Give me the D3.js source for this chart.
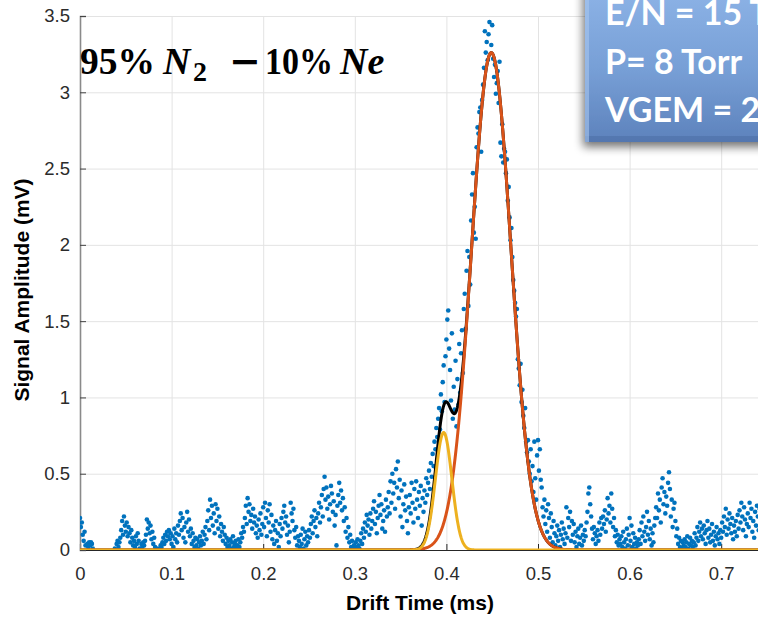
<!DOCTYPE html>
<html>
<head>
<meta charset="utf-8">
<script src="https://cdn.jsdelivr.net/npm/d3@7/dist/d3.min.js"></script>
<style>
  html, body { margin: 0; padding: 0; background: #fff; }
  svg { display: block; }
</style>
</head>
<body>
<svg id="chart" width="758" height="618"></svg>
<script>
// Drift-time signal (mV), sampled every 1 µs starting at t = 0
const timeStart = 0;
const timeStep = 0.001;
const signal = [
  0.21, 0.15, 0.18, 0.10, 0.06, 0.12, 0.03, -0.04, 0.04, 0.02,
  0.05, 0.03, 0.05, 0.04, 0.01, -0.05, -0.08, -0.03, -0.06, -0.10,
  -0.06, -0.02, -0.07, -0.10, -0.04, -0.08, -0.05, -0.09, -0.03, -0.06,
  -0.05, -0.09, -0.04, -0.07, -0.02, -0.06, -0.03, -0.05, 0.01, -0.02,
  0.04, 0.06, 0.02, 0.05, 0.08, 0.13, 0.19, 0.10, 0.22, 0.16,
  0.12, 0.18, 0.09, 0.15, 0.11, 0.05, 0.13, 0.08, 0.03, 0.06,
  0.02, 0.09, 0.04, 0.11, 0.06, 0.01, -0.03, 0.04, 0.02, 0.05,
  0.03, 0.06, 0.10, 0.20, 0.14, 0.18, 0.11, 0.16, 0.07, 0.12,
  0.04, 0.08, 0.02, -0.03, 0.01, -0.05, -0.02, 0.01, 0.03, 0.02,
  0.05, 0.08, 0.04, 0.10, 0.06, 0.12, 0.09, 0.13, 0.07, 0.11,
  0.04, 0.09, 0.02, 0.14, 0.07, 0.11, 0.05, 0.16, 0.10, 0.19,
  0.24, 0.13, 0.21, 0.08, 0.15, 0.05, 0.18, 0.25, 0.12, 0.20,
  0.09, 0.14, 0.04, 0.11, 0.06, 0.02, 0.08, 0.03, 0.07, 0.01,
  0.05, 0.09, 0.03, 0.06, 0.12, 0.04, 0.10, 0.15, 0.07, 0.19,
  0.26, 0.13, 0.33, 0.21, 0.29, 0.16, 0.24, 0.11, 0.30, 0.19,
  0.27, 0.14, 0.22, 0.09, 0.17, 0.12, 0.06, 0.15, 0.10, 0.04,
  0.08, 0.02, 0.06, 0.03, 0.07, 0.01, 0.05, 0.09, 0.02, 0.04,
  0.06, 0.01, 0.03, 0.07, 0.02, 0.05, 0.11, 0.08, 0.15, 0.12,
  0.21, 0.29, 0.17, 0.34, 0.25, 0.30, 0.19, 0.23, 0.14, 0.27,
  0.18, 0.22, 0.11, 0.16, 0.08, 0.20, 0.13, 0.24, 0.10, 0.17,
  0.28, 0.15, 0.31, 0.21, 0.09, 0.26, 0.18, 0.30, 0.12, 0.23,
  0.07, 0.16, 0.04, 0.13, 0.19, 0.06, 0.11, 0.02, 0.17, 0.09,
  0.21, 0.14, 0.25, 0.29, 0.18, 0.22, 0.10, 0.16, 0.05, 0.12,
  0.31, 0.24, 0.19, 0.27, 0.13, 0.08, 0.15, 0.03, 0.09, 0.06,
  0.02, 0.10, 0.04, 0.14, 0.01, 0.07, 0.12, 0.03, 0.09, 0.05,
  0.13, 0.08, 0.17, 0.22, 0.11, 0.19, 0.26, 0.15, 0.21, 0.09,
  0.24, 0.31, 0.18, 0.28, 0.36, 0.22, 0.40, 0.48, 0.33, 0.41,
  0.27, 0.35, 0.20, 0.30, 0.42, 0.37, 0.25, 0.32, 0.16, 0.23,
  0.03, 0.29, 0.36, 0.44, 0.31, 0.39, 0.26, 0.34, 0.19, 0.28,
  0.12, 0.21, 0.08, 0.15, 0.05, 0.10, 0.02, 0.06, -0.02, 0.03,
  0.01, 0.05, 0.02, 0.07, 0.03, 0.01, 0.06, 0.11, 0.04, 0.14,
  0.08, 0.18, 0.12, 0.23, 0.16, 0.20, 0.10, 0.24, 0.14, 0.19,
  0.27, 0.32, 0.17, 0.25, 0.11, 0.21, 0.29, 0.36, 0.23, 0.30,
  0.14, 0.19, 0.26, 0.12, 0.33, 0.22, 0.28, 0.38, 0.24, 0.45,
  0.31, 0.50, 0.37, 0.44, 0.27, 0.53, 0.41, 0.58, 0.34, 0.46,
  0.22, 0.39, 0.15, 0.30, 0.43, 0.26, 0.35, 0.19, 0.11, 0.28,
  0.36, 0.24, 0.44, 0.31, 0.18, 0.40, 0.27, 0.45, 0.33, 0.21,
  0.38, 0.29, 0.42, 0.16, 0.34, 0.25, 0.39, 0.31, 0.47, 0.36,
  0.44, 0.52, 0.40, 0.57, 0.48, 0.63, 0.55, 0.71, 0.66, 0.80,
  0.74, 0.86, 0.93, 0.79, 1.02, 0.91, 1.10, 1.21, 0.97, 1.27,
  1.38, 1.51, 1.57, 1.32, 1.18, 0.98, 1.42, 0.86, 1.07, 0.92,
  1.24, 0.81, 1.12, 0.95, 1.35, 1.03, 1.29, 1.44, 1.16, 1.58,
  1.68, 1.45, 1.83, 1.96, 1.60, 1.92, 1.74, 2.16, 2.33, 2.47,
  2.08, 2.25, 2.04, 2.64, 2.77, 2.73, 2.87, 2.90, 2.61, 2.95,
  3.05, 3.16, 3.40, 3.26, 3.33, 3.21, 3.38, 3.46, 3.52, 3.31,
  3.44, 3.22, 3.10, 3.18, 2.99, 3.06, 3.14, 2.93, 3.20, 2.67,
  2.58, 2.79, 2.54, 2.63, 2.61, 2.47, 2.56, 2.29, 2.38, 2.18,
  2.03, 2.11, 1.92, 1.77, 1.70, 1.62, 1.53, 1.58, 1.25, 1.19,
  1.08, 1.22, 0.97, 1.05, 0.88, 0.80, 0.93, 0.71, 0.64, 0.72,
  0.58, 0.50, 0.66, 0.45, 0.55, 0.38, 0.71, 0.47, 0.33, 0.62,
  0.72, 0.52, 0.66, 0.46, 0.41, 0.28, 0.22, 0.33, 0.17, 0.26,
  0.12, 0.30, 0.21, 0.08, 0.24, 0.15, 0.05, 0.19, 0.11, 0.03,
  0.09, 0.16, 0.06, 0.13, 0.02, 0.10, 0.18, 0.07, 0.14, 0.04,
  0.11, 0.28, 0.08, 0.21, 0.15, 0.25, 0.06, 0.19, 0.10, 0.17,
  0.05, 0.12, 0.02, 0.09, 0.14, 0.04, 0.08, 0.16, 0.03, 0.10,
  0.06, 0.13, 0.09, 0.18, 0.25, 0.37, 0.41, 0.30, 0.22, 0.14,
  0.07, 0.15, 0.11, 0.04, 0.09, 0.13, 0.06, 0.18, 0.10, 0.21,
  0.14, 0.22, 0.17, 0.26, 0.12, 0.20, 0.34, 0.24, 0.29, 0.18,
  0.37, 0.27, 0.15, 0.21, 0.09, 0.13, 0.05, 0.10, 0.03, 0.07,
  0.04, 0.09, 0.02, 0.12, 0.05, 0.01, 0.07, 0.14, 0.03, 0.10,
  0.21, 0.06, 0.16, 0.02, 0.11, 0.04, 0.08, 0.01, 0.05, 0.03,
  0.07, 0.13, 0.04, 0.18, 0.09, 0.22, 0.12, 0.06, 0.15, 0.25,
  0.10, 0.19, 0.07, 0.14, 0.03, 0.11, 0.05, 0.16, 0.21, 0.28,
  0.21, 0.37, 0.26, 0.33, 0.18, 0.41, 0.47, 0.30, 0.38, 0.24,
  0.35, 0.29, 0.44, 0.51, 0.40, 0.22, 0.33, 0.15, 0.27, 0.31,
  0.19, 0.09, 0.14, 0.04, 0.08, 0.02, 0.06, 0.01, 0.05, 0.03,
  0.07, 0.02, 0.05, 0.09, 0.01, 0.04, 0.08, 0.03, 0.06, 0.02,
  0.05, 0.11, 0.03, 0.08, 0.15, 0.06, 0.12, 0.18, 0.09, 0.14,
  0.07, 0.16, 0.11, 0.04, 0.13, 0.19, 0.08, 0.14, 0.05, 0.10,
  0.17, 0.06, 0.12, 0.03, 0.09, 0.15, 0.07, 0.11, 0.04, 0.13,
  0.08, 0.18, 0.12, 0.22, 0.15, 0.27, 0.10, 0.20, 0.14, 0.24,
  0.17, 0.11, 0.21, 0.07, 0.16, 0.12, 0.19, 0.09, 0.23, 0.14,
  0.26, 0.18, 0.31, 0.22, 0.13, 0.28, 0.20, 0.09, 0.17, 0.24,
  0.15, 0.31, 0.21, 0.27, 0.12, 0.19, 0.08, 0.25, 0.16, 0.29,
  0.22, 0.13, 0.27, 0.18, 0.30, 0.10, 0.20, 0.15, 0.24, 0.11
];

// Two-Gaussian fit: main N2 peak and the earlier Ne shoulder
const fitNames = ["main", "shoulder"];
const fitCenters = [0.449, 0.397];
const fitAmplitudes = [3.26, 0.77];
const fitSigmas = [0.0215, 0.009];

const xTicks = [0, 0.1, 0.2, 0.3, 0.4, 0.5, 0.6, 0.7];
const xGrid = [0, 0.1, 0.2, 0.3, 0.4, 0.5, 0.6, 0.7, 0.8];
const yTicks = [0, 0.5, 1, 1.5, 2, 2.5, 3, 3.5];
const infoLines = ["E/N = 15 Td", "P= 8 Torr", "VGEM = 250 V"];

const svg = d3.select("#chart");
const plot = { left: 80, top: 16, bottom: 550, right: 80 + 916 * 0.8 };

const x = d3.scaleLinear().domain([0, 0.8]).range([plot.left, plot.right]);
const y = d3.scaleLinear().domain([0, 3.5]).range([plot.bottom, plot.top]);

const tickFont = "'Liberation Sans', Arial, Helvetica, sans-serif";

const defs = svg.append("defs");
defs.append("clipPath").attr("id", "plotClip")
  .append("rect")
  .attr("x", plot.left).attr("y", plot.top)
  .attr("width", plot.right - plot.left).attr("height", plot.bottom - plot.top);

// grid
const grid = svg.append("g").attr("class", "grid");
grid.append("g")
  .attr("transform", `translate(0,${plot.bottom})`)
  .call(d3.axisBottom(x).tickValues(xGrid).tickSize(-(plot.bottom - plot.top)).tickFormat(""))
  .call(g => g.select(".domain").remove())
  .call(g => g.selectAll("line").attr("stroke", "#e3e3e3").attr("stroke-width", 1));
grid.append("g")
  .attr("transform", `translate(${plot.left},0)`)
  .call(d3.axisLeft(y).tickValues(yTicks).tickSize(-(plot.right - plot.left)).tickFormat(""))
  .call(g => g.select(".domain").remove())
  .call(g => g.selectAll("line").attr("stroke", "#e3e3e3").attr("stroke-width", 1));

// axes
svg.append("g")
  .attr("transform", `translate(0,${plot.bottom})`)
  .call(d3.axisBottom(x).tickValues(xTicks).tickSize(-6).tickPadding(17).tickFormat(d3.format("")))
  .call(g => g.select(".domain").attr("stroke", "#262626").attr("stroke-width", 1.2))
  .call(g => g.selectAll(".tick line").attr("stroke", "#262626"))
  .call(g => g.selectAll("text").attr("fill", "#2b2b2b").attr("font-size", 18.5).attr("font-family", tickFont));

svg.append("g")
  .attr("transform", `translate(${plot.left},0)`)
  .call(d3.axisLeft(y).tickValues(yTicks).tickSize(-6).tickPadding(10).tickFormat(d3.format("")))
  .call(g => g.select(".domain").attr("stroke", "#8a8a8a").attr("stroke-width", 1.6))
  .call(g => g.selectAll(".tick line").attr("stroke", "#444"))
  .call(g => g.selectAll("text").attr("fill", "#2b2b2b").attr("font-size", 18.5).attr("font-family", tickFont));

const marks = svg.append("g").attr("clip-path", "url(#plotClip)");

// measured samples
marks.append("g")
  .selectAll("circle")
  .data(signal)
  .join("circle")
  .attr("cx", (d, i) => x(timeStart + i * timeStep))
  .attr("cy", d => y(d))
  .attr("r", 2.3)
  .attr("fill", "#0072BD");

// fitted curves evaluated on a fine time grid
const gaussian = (k, t) => fitAmplitudes[k] * Math.exp(-((t - fitCenters[k]) ** 2) / (2 * fitSigmas[k] ** 2));
const fineGrid = d3.range(0, 0.8 + 1e-9, 0.0005);
const line = d3.line().x(d => x(d[0])).y(d => y(d[1]));

const sumCurve = fineGrid.map(t => [t, gaussian(0, t) + gaussian(1, t)]);
const mainCurve = fineGrid.map(t => [t, gaussian(0, t)]);
const shoulderCurve = fineGrid.map(t => [t, gaussian(1, t)]);

marks.append("path").attr("d", line(sumCurve))
  .attr("fill", "none").attr("stroke", "#000").attr("stroke-width", 3).attr("stroke-linejoin", "round");
marks.append("path").attr("d", line(mainCurve))
  .attr("fill", "none").attr("stroke", "#D95319").attr("stroke-width", 3).attr("stroke-linejoin", "round");
marks.append("path").attr("d", line(shoulderCurve))
  .attr("fill", "none").attr("stroke", "#EDB120").attr("stroke-width", 3).attr("stroke-linejoin", "round");

// axis titles
svg.append("text")
  .attr("x", 420).attr("y", 610)
  .attr("text-anchor", "middle")
  .attr("font-family", tickFont).attr("font-weight", "bold").attr("font-size", 21)
  .attr("fill", "#000")
  .text("Drift Time (ms)");

svg.append("text")
  .attr("transform", "translate(29,290) rotate(-90)")
  .attr("text-anchor", "middle")
  .attr("font-family", tickFont).attr("font-weight", "bold").attr("font-size", 21)
  .attr("fill", "#000")
  .text("Signal Amplitude (mV)");

// gas mixture label
const serif = "'Liberation Serif', 'DejaVu Serif', serif";
const title = svg.append("text")
  .attr("y", 74)
  .attr("font-family", serif).attr("font-weight", "bold").attr("font-size", 38)
  .attr("fill", "#000");
title.append("tspan").attr("x", 80)
  .attr("textLength", 75).attr("lengthAdjust", "spacingAndGlyphs").text("95%");
title.append("tspan").attr("x", 163).attr("font-style", "italic").text("N");
title.append("tspan").attr("x", 193).attr("font-size", 28).attr("dy", 7).text("2");
title.append("tspan").attr("x", 229).attr("dy", -7)
  .attr("font-family", "'DejaVu Sans', sans-serif").attr("font-weight", "bold").attr("font-size", 38)
  .text("\u2212");
title.append("tspan").attr("x", 265)
  .attr("textLength", 68).attr("lengthAdjust", "spacingAndGlyphs").text("10%");
title.append("tspan").attr("x", 340).attr("font-style", "italic").text("Ne");

// operating conditions box
const grad = defs.append("linearGradient").attr("id", "boxFill")
  .attr("x1", 0).attr("y1", 0).attr("x2", 0).attr("y2", 1);
grad.append("stop").attr("offset", "0%").attr("stop-color", "#8fb5e8");
grad.append("stop").attr("offset", "55%").attr("stop-color", "#779fd6");
grad.append("stop").attr("offset", "100%").attr("stop-color", "#5d82bc");

const shadow = defs.append("filter").attr("id", "boxShadow")
  .attr("x", "-20%").attr("y", "-20%").attr("width", "140%").attr("height", "150%");
shadow.append("feGaussianBlur").attr("in", "SourceAlpha").attr("stdDeviation", 5).attr("result", "blur");
shadow.append("feOffset").attr("in", "blur").attr("dx", -2).attr("dy", 5).attr("result", "off");
shadow.append("feComponentTransfer").attr("in", "off").attr("result", "soft")
  .append("feFuncA").attr("type", "linear").attr("slope", 0.55);
const merge = shadow.append("feMerge");
merge.append("feMergeNode").attr("in", "soft");
merge.append("feMergeNode").attr("in", "SourceGraphic");

const box = svg.append("g");
box.append("rect")
  .attr("x", 585).attr("y", -20).attr("width", 260).attr("height", 162)
  .attr("fill", "url(#boxFill)")
  .attr("filter", "url(#boxShadow)");
box.append("rect")
  .attr("x", 585).attr("y", 136).attr("width", 260).attr("height", 6)
  .attr("fill", "#4d6fa6").attr("opacity", 0.6);
box.append("rect")
  .attr("x", 585).attr("y", -20).attr("width", 4).attr("height", 162)
  .attr("fill", "#a9c6ee").attr("opacity", 0.6);

box.selectAll("text.info")
  .data(infoLines)
  .join("text")
  .attr("class", "info")
  .attr("x", 605)
  .attr("y", (d, i) => 25 + i * 48.5)
  .attr("font-family", "Lato, 'Open Sans', sans-serif")
  .attr("font-weight", "bold")
  .attr("font-size", 34)
  .attr("fill", "#fff")
  .text(d => d);
</script>
</body>
</html>
